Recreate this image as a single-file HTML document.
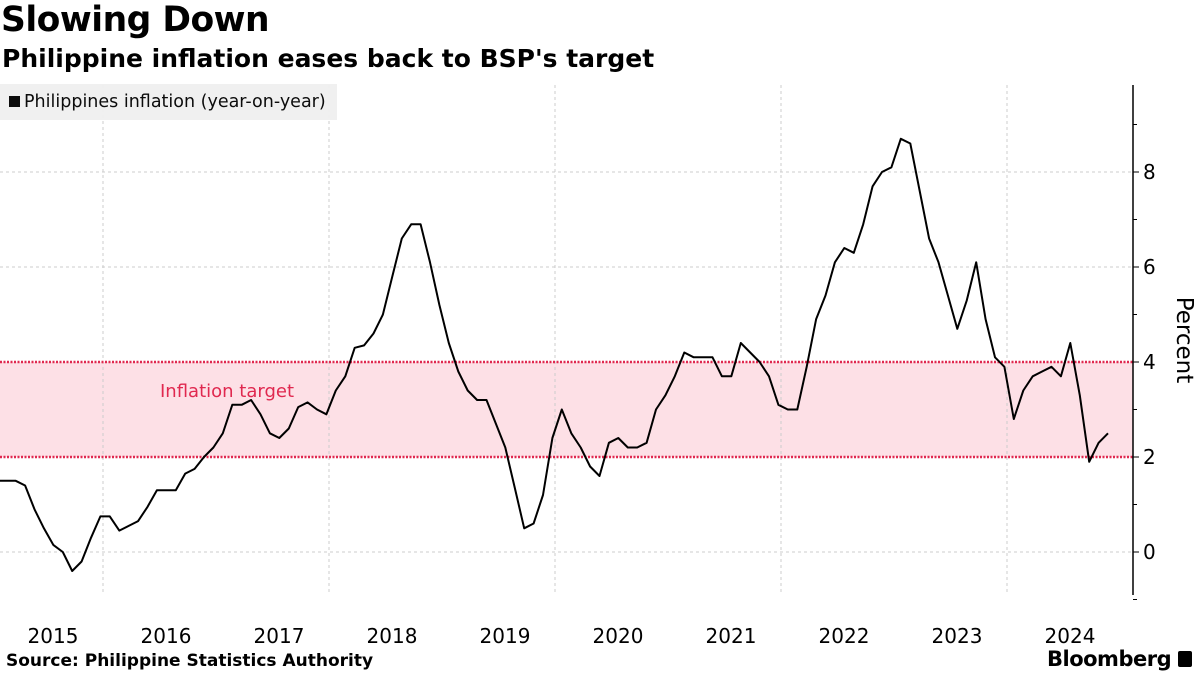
<!DOCTYPE html>
<html><head><meta charset="utf-8"><style>
body{margin:0;width:1200px;height:675px;background:#fff;font-family:"Liberation Sans","DejaVu Sans",sans-serif;overflow:hidden;position:relative}
.t{position:absolute;white-space:nowrap}
</style></head><body>
<div class="t" style="left:1px;top:0px;font-size:34.5px;font-weight:bold;font-family:'DejaVu Sans',sans-serif;letter-spacing:-0.5px">Slowing Down</div>
<div class="t" style="left:2px;top:44px;font-size:25px;font-weight:bold;font-family:'DejaVu Sans',sans-serif">Philippine inflation eases back to BSP's target</div>
<svg id="chart" width="1200" height="675" style="position:absolute;left:0;top:0"></svg>
<div class="t" style="left:0;top:84px;width:337px;height:36px;background:#f0f0f0;font-size:17.5px;line-height:36px;font-family:'DejaVu Sans',sans-serif;opacity:.95"><span style="display:inline-block;width:11px;height:11px;background:#000;margin:0 4px 0 9px"></span>Philippines inflation (year-on-year)</div>
<div class="t" style="left:6px;top:651px;font-size:17px;font-weight:bold;font-family:'DejaVu Sans',sans-serif">Source: Philippine Statistics Authority</div>
<div class="t" style="left:1047px;top:647px;font-size:21px;font-weight:bold;font-family:'DejaVu Sans',sans-serif;letter-spacing:-0.5px">Bloomberg <span style="display:inline-block;width:14px;height:16px;background:#000;border-radius:2px;vertical-align:-1px"></span></div>
<script>
const values=[1.5,1.5,1.5,1.5,1.4,0.9,0.5,0.15,0.0,-0.4,-0.2,0.3,
0.75,0.75,0.45,0.55,0.65,0.95,1.3,1.3,1.3,1.65,1.75,2.0,
2.2,2.5,3.1,3.1,3.2,2.9,2.5,2.4,2.6,3.05,3.15,3.0,
2.9,3.4,3.7,4.3,4.35,4.6,5.0,5.8,6.6,6.9,6.9,6.1,
5.2,4.4,3.8,3.4,3.2,3.2,2.7,2.2,1.35,0.5,0.6,1.2,
2.4,3.0,2.5,2.2,1.8,1.6,2.3,2.4,2.2,2.2,2.3,3.0,
3.3,3.7,4.2,4.1,4.1,4.1,3.7,3.7,4.4,4.2,4.0,3.7,
3.1,3.0,3.0,3.9,4.9,5.4,6.1,6.4,6.3,6.9,7.7,8.0,8.1,
8.7,8.6,7.6,6.6,6.1,5.4,4.7,5.3,6.1,4.9,4.1,3.9,
2.8,3.4,3.7,3.8,3.9,3.7,4.4,3.3,1.9,2.3,2.5];
const years=[2015,2016,2017,2018,2019,2020,2021,2022,2023,2024];
const gridYears=[2016,2018,2020,2022,2024];
const yTicks=[0,2,4,6,8];
const targetBand=[2,4];
const NS="http://www.w3.org/2000/svg";
const svg=document.getElementById('chart');
const X0=1133,TOP=85,BOT=595,MW=113/12;
const y=v=>552-v*47.5;
const xYear=yr=>103+(yr-2016)*113; // Jan 1 of year
const xi=i=>1108-(values.length-1-i)*MW;
function el(t,a,p){const e=document.createElementNS(NS,t);for(const k in a)e.setAttribute(k,a[k]);(p||svg).appendChild(e);return e;}
const band=el('rect',{x:0,y:y(targetBand[1]),width:X0,height:y(targetBand[0])-y(targetBand[1]),fill:'#fde0e6'});


yTicks.forEach(v=>{
 if(!targetBand.includes(v)){const g=el('line',{x1:0,x2:X0,y1:y(v),y2:y(v),stroke:'#cccccc','stroke-dasharray':'3,3'});
 
 }
 const tk=el('line',{x1:X0,x2:X0+6,y1:y(v),y2:y(v),stroke:'#000'});
 
 
 const t=el('text',{x:X0+10,y:y(v)+7,'font-size':20,'font-family':'DejaVu Sans,sans-serif'});t.textContent=v;
 
 
});
for(let v=-1;v<=9;v+=2){const m=el('line',{x1:X0,x2:X0+4,y1:y(v),y2:y(v),stroke:'#000'});
 
 }
gridYears.forEach(yr=>{const g=el('line',{x1:xYear(yr),x2:xYear(yr),y1:TOP,y2:BOT,stroke:'#cccccc','stroke-dasharray':'3,3'});
 
 });
targetBand.forEach(v=>{const l=el('line',{x1:0,x2:X0,y1:y(v),y2:y(v),stroke:'#e0284f','stroke-width':2.5,'stroke-dasharray':'2,1.5'});
 
 });
const tl=el('text',{x:160,y:397,fill:'#e0284f','font-size':18,'font-family':'DejaVu Sans,sans-serif'});tl.textContent='Inflation target';


years.forEach(yr=>{const t=el('text',{x:xYear(yr)+113-50,y:643,'text-anchor':'middle','font-size':20,'font-family':'DejaVu Sans,sans-serif'});t.textContent=yr;
 
 });
const ax=el('line',{x1:X0,x2:X0,y1:TOP,y2:BOT,stroke:'#000','stroke-width':1.5});


const pt=el('text',{transform:'translate(1177,340) rotate(90)','text-anchor':'middle','font-size':23,'font-family':'DejaVu Sans,sans-serif'});pt.textContent='Percent';


const line=el('polyline',{points:values.map((v,i)=>xi(i).toFixed(1)+','+y(v).toFixed(1)).join(' '),fill:'none',stroke:'#000','stroke-width':2,'stroke-linejoin':'round'});


</script>
</body></html>
